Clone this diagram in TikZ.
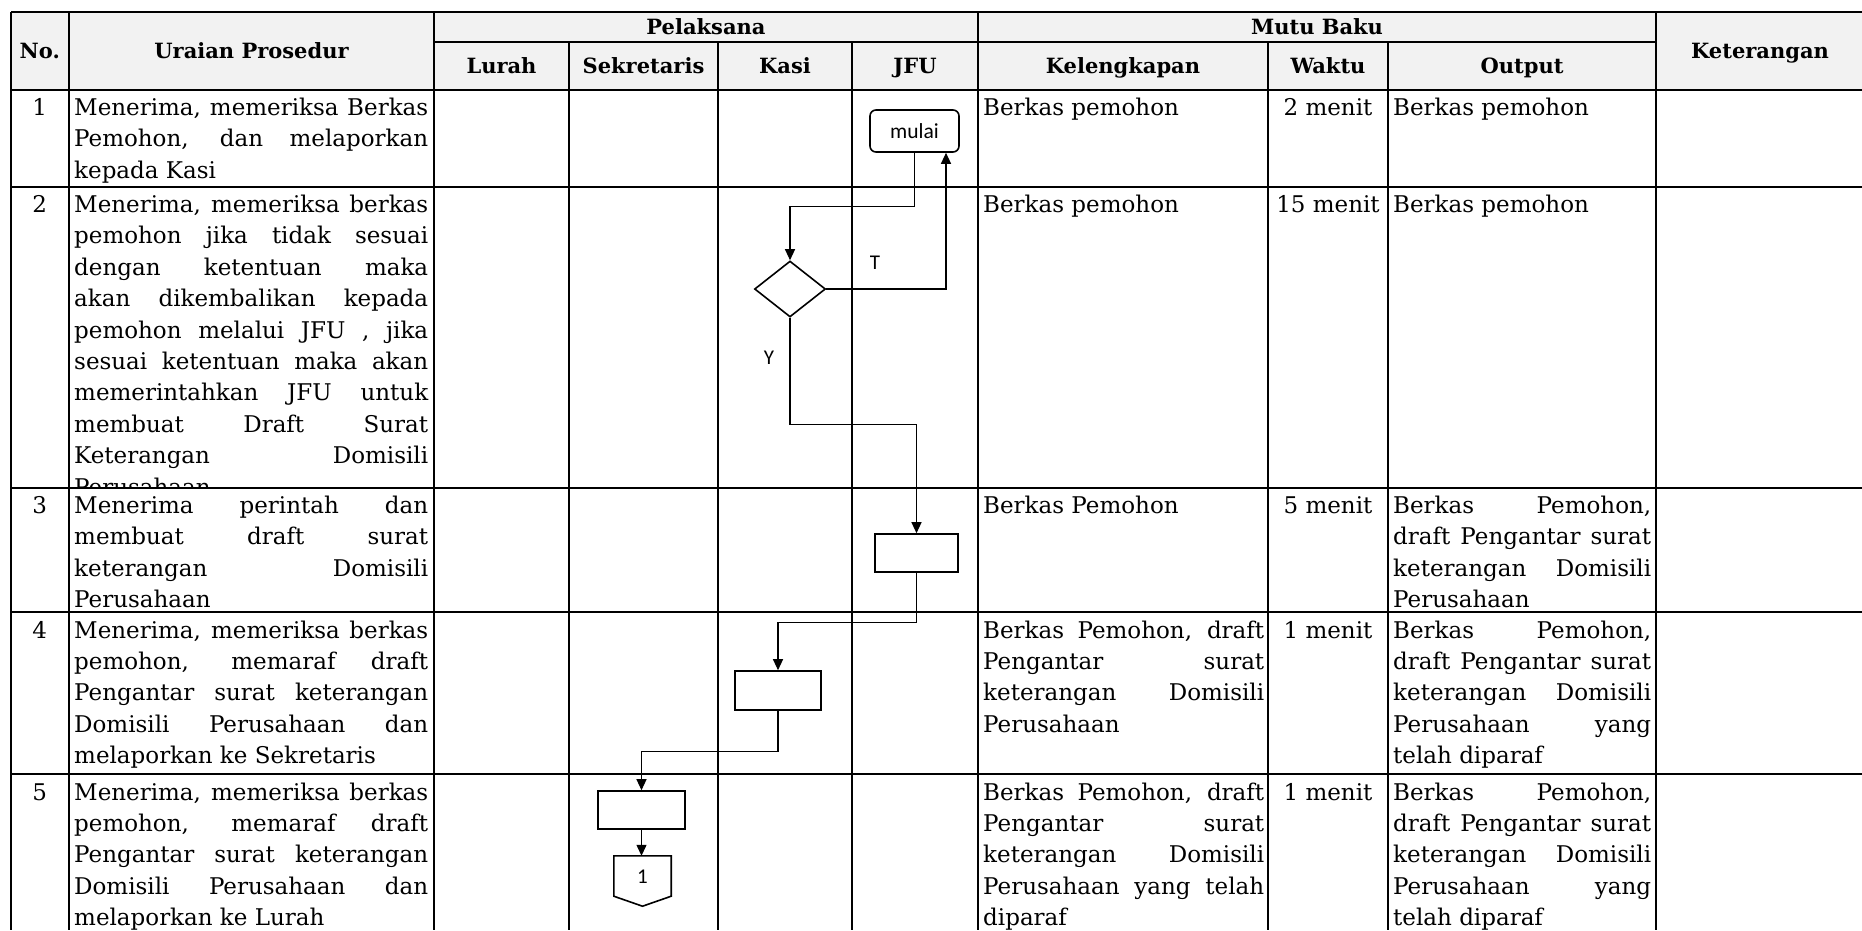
\documentclass[tikz,border=0pt]{standalone}
\usepackage{fontspec}
\setmainfont{DejaVu Serif}
\newfontfamily\flowfont{Carlito}
\usetikzlibrary{arrows.meta,shapes.geometric,calc}
\definecolor{hdr}{HTML}{F2F2F2}
\newcommand\jline[1]{\makebox[\linewidth][s]{#1}\par}
\newcommand\lline[1]{#1\par}
\newcommand\cbox[2]{\parbox[t]{#1}{\fontsize{23}{31.4}\selectfont #2}}
\begin{document}
\begin{tikzpicture}[x=1pt,y=-1pt,
  grid/.style={line width=2pt},
  hd/.style={font=\fontsize{21}{25}\selectfont\bfseries, text height=15pt, text depth=0pt, inner sep=0pt, anchor=center},
  cell/.style={anchor=base west, inner sep=0pt},
  num/.style={anchor=base, inner sep=0pt, font=\fontsize{23}{31.4}\selectfont},
  flowbox/.style={draw, fill=white, line width=1.6pt, inner sep=0pt},
  arr/.style={line width=1.2pt, -{Triangle[length=11pt,width=10pt]}},
  lbl/.style={font=\flowfont\fontsize{21}{24}\selectfont, inner sep=0pt}
]
\useasboundingbox (0,0) rectangle (1862,930);
\clip (0,0) rectangle (1862,930);
\fill[white] (0,0) rectangle (1862,930);
\fill[hdr] (11,11.7) rectangle (1862,90);

% headers
\node[hd] (hno) at (39.75,51) {No.};
\node[hd] (hur) at (251.5,51) {Uraian Prosedur};
\node[hd] (hpel) at (706,27) {Pelaksana};
\node[hd] (hmb) at (1317,27) {Mutu Baku};
\node[hd] (hket) at (1760,51) {Keterangan};
\node[hd] (hlur) at (501.5,66) {Lurah};
\node[hd] (hsek) at (643.5,66) {Sekretaris};
\node[hd] (hkas) at (785,66) {Kasi};
\node[hd] (hjfu) at (915,66) {JFU};
\node[hd] (hkel) at (1123,66) {Kelengkapan};
\node[hd] (hwak) at (1328,66) {Waktu};
\node[hd] (hout) at (1522,66) {Output};

% row 1
\node[num] (n1) at (39.75,115.5) {1};
\node[cell] (u1) at (74,115.5) {\cbox{354pt}{\jline{Menerima, memeriksa Berkas}\jline{Pemohon, dan melaporkan}\lline{kepada Kasi}}};
\node[cell] (k1) at (983,115.5) {\cbox{281pt}{\lline{Berkas pemohon}}};
\node[num] (w1) at (1328,115.5) {2 menit};
\node[cell] (o1) at (1393,115.5) {\cbox{258pt}{\lline{Berkas pemohon}}};

% row 2
\node[num] (n2) at (39.75,212.5) {2};
\node[cell] (u2) at (74,212.5) {\cbox{354pt}{\jline{Menerima, memeriksa berkas}\jline{pemohon jika tidak sesuai}\jline{dengan ketentuan maka}\jline{akan dikembalikan kepada}\jline{pemohon melalui JFU , jika}\jline{sesuai ketentuan maka akan}\jline{memerintahkan JFU untuk}\jline{membuat Draft Surat}\lline{\makebox[354pt][s]{Keterangan Domisili}}}};
\begin{scope}
\clip (11,186.5) rectangle (1862,487.5);
\node[cell, text depth=0pt, font=\fontsize{23}{31.4}\selectfont] (u2b) at (74,495.5) {Perusahaan};
\end{scope}
\node[cell] (k2) at (983,212.5) {\cbox{281pt}{\lline{Berkas pemohon}}};
\node[num] (w2) at (1328,212.5) {15 menit};
\node[cell] (o2) at (1393,212.5) {\cbox{258pt}{\lline{Berkas pemohon}}};

% row 3
\node[num] (n3) at (39.75,513.5) {3};
\node[cell] (u3) at (74,513.5) {\cbox{354pt}{\jline{Menerima perintah dan}\jline{membuat draft surat}\jline{keterangan Domisili}\lline{Perusahaan}}};
\node[cell] (k3) at (983,513.5) {\cbox{281pt}{\lline{Berkas Pemohon}}};
\node[num] (w3) at (1328,513.5) {5 menit};
\node[cell] (o3) at (1393,513.5) {\cbox{258pt}{\jline{Berkas Pemohon,}\jline{draft Pengantar surat}\jline{keterangan Domisili}\lline{Perusahaan}}};

% row 4
\node[num] (n4) at (39.75,638) {4};
\node[cell] (u4) at (74,638) {\cbox{354pt}{\jline{Menerima, memeriksa berkas}\jline{pemohon, memaraf draft}\jline{Pengantar surat keterangan}\jline{Domisili Perusahaan dan}\lline{melaporkan ke Sekretaris}}};
\node[cell] (k4) at (983,638) {\cbox{281pt}{\jline{Berkas Pemohon, draft}\jline{Pengantar surat}\jline{keterangan Domisili}\lline{Perusahaan}}};
\node[num] (w4) at (1328,638) {1 menit};
\node[cell] (o4) at (1393,638) {\cbox{258pt}{\jline{Berkas Pemohon,}\jline{draft Pengantar surat}\jline{keterangan Domisili}\jline{Perusahaan yang}\lline{telah diparaf}}};

% row 5
\node[num] (n5) at (39.75,800) {5};
\node[cell] (u5) at (74,800) {\cbox{354pt}{\jline{Menerima, memeriksa berkas}\jline{pemohon, memaraf draft}\jline{Pengantar surat keterangan}\jline{Domisili Perusahaan dan}\lline{melaporkan ke Lurah}}};
\node[cell] (k5) at (983,800) {\cbox{281pt}{\jline{Berkas Pemohon, draft}\jline{Pengantar surat}\jline{keterangan Domisili}\jline{Perusahaan yang telah}\lline{diparaf}}};
\node[num] (w5) at (1328,800) {1 menit};
\node[cell] (o5) at (1393,800) {\cbox{258pt}{\jline{Berkas Pemohon,}\jline{draft Pengantar surat}\jline{keterangan Domisili}\jline{Perusahaan yang}\lline{telah diparaf}}};

% grid
\draw[grid] (11,11.7) -- (1862,11.7);
\draw[grid] (434,41.7) -- (1656,41.7);
\foreach \yy in {90,186.5,487.5,612,774} \draw[grid] (11,\yy) -- (1862,\yy);
\foreach \xx in {11,68.5,434,978,1656} \draw[grid] (\xx,11.7) -- (\xx,930);
\foreach \xx in {569,718,852,1268,1388} \draw[grid] (\xx,41.7) -- (\xx,930);

% flowchart
\node[flowbox, rounded corners=6pt, minimum width=89pt, minimum height=42pt, font=\flowfont\fontsize{21.5}{24}\selectfont] (mulai) at (914.5,131) {mulai};
\node[flowbox, diamond, minimum width=71pt, minimum height=56pt] (dec) at (790,289) {};
\node[flowbox, minimum width=83pt, minimum height=38pt] (r1) at (916.5,553) {};
\node[flowbox, minimum width=86pt, minimum height=39pt] (r2) at (778,690.5) {};
\node[flowbox, minimum width=87pt, minimum height=38pt] (r3) at (641.5,810) {};
\node[inner sep=0pt, minimum width=57pt, minimum height=50pt] (off) at (642.5,881) {};
\draw[line width=1.6pt, fill=white] (off.north west) -- (off.north east) -- ($(off.south east)+(0,-10)$) -- (off.south) -- ($(off.south west)+(0,-10)$) -- cycle;
\node[lbl] (offl) at (642.5,877) {1};

\draw[arr] (mulai.south) -- ++(0,54) -| (dec.north);
\draw[arr] (dec.east) -| ($(mulai.south)+(31.5,0)$);
\draw[arr] (dec.south) -- ++(0,107) -| (r1.north);
\draw[arr] (r1.south) -- ++(0,50) -| (r2.north);
\draw[arr] (r2.south) -- ++(0,41) -| (r3.north);
\draw[arr] (r3.south) -- (r3.south |- off.north);

\node[lbl] (tl) at (875,263) {T};
\node[lbl] (yl) at (769,358) {Y};
\end{tikzpicture}
\end{document}
